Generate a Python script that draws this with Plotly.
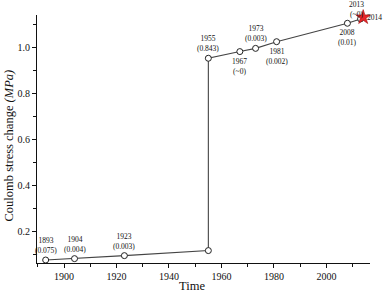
import plotly.graph_objects as go

# Data (cumulative Coulomb stress change, MPa)
years = [1893, 1904, 1923, 1955, 1955, 1967, 1973, 1981, 2008, 2013]
stress = [0.078, 0.084, 0.097, 0.119, 0.955, 0.984, 0.998, 1.027, 1.107, 1.126]
star_year = [2014]
star_stress = [1.133]

label_years = ["1893", "1904", "1923", "1955", "1967", "1973", "1981", "2008", "2013"]
label_changes = ["(0.075)", "(0.004)", "(0.003)", "(0.843)", "(~0)", "(0.003)", "(0.002)", "(0.01)", "(~0)"]
label_x = [1893, 1904, 1923, 1955, 1967, 1973, 1981, 2008, 2013]
label_y = [0.078, 0.084, 0.097, 0.955, 0.984, 0.998, 1.027, 1.107, 1.126]
label_pos = ["above", "above", "above", "above", "below", "above", "below", "below", "above"]

xticks = [1900, 1920, 1940, 1960, 1980, 2000]
yticks = [0.2, 0.4, 0.6, 0.8, 1.0]

FONT = "Liberation Serif"
L, R, T, B = 37, 370, 15, 263
W, H = 387, 295

fig = go.Figure()
fig.add_trace(go.Scatter(
    x=years + star_year, y=stress + star_stress, mode="lines",
    line=dict(color="#444444", width=1.1), showlegend=False, cliponaxis=False,
))
fig.add_trace(go.Scatter(
    x=years, y=stress, mode="markers",
    marker=dict(symbol="circle", size=6, color="white", line=dict(color="#222222", width=1)),
    showlegend=False, cliponaxis=False,
))
fig.add_trace(go.Scatter(
    x=star_year, y=star_stress, mode="markers",
    marker=dict(symbol="star", size=11, color="#e8262a", line=dict(color="#a01010", width=0.6)),
    showlegend=False, cliponaxis=False,
))

for yr, ch, xv, yv, pos in zip(label_years, label_changes, label_x, label_y, label_pos):
    if pos == "above":
        yanchor, yshift = "bottom", 4
    else:
        yanchor, yshift = "top", -4
    xshift = 0
    if yr == "2013":
        yshift = -1
        xshift = -4
    fig.add_annotation(
        x=xv, y=yv, text=yr + "<br>" + ch, showarrow=False,
        xanchor="center", yanchor=yanchor, yshift=yshift, xshift=xshift, borderpad=0,
        font=dict(family=FONT, size=7.5, color="#111111"),
    )
fig.add_annotation(
    x=star_year[0], y=star_stress[0], text="2014", showarrow=False,
    xanchor="left", yanchor="middle", xshift=3, borderpad=0,
    font=dict(family=FONT, size=7.5, color="#111111"),
)

# axis titles as annotations
fig.add_annotation(
    xref="paper", yref="paper", x=(192 - L) / (R - L), y=-(286 - B) / (B - T),
    text="Time", showarrow=False, xanchor="center", yanchor="middle",
    font=dict(family=FONT, size=12.5, color="#111111"),
)
fig.add_annotation(
    xref="paper", yref="paper", x=-(L - 9) / (R - L), y=(B - 145.5) / (B - T),
    text="Coulomb stress change <i>(MPa)</i>", showarrow=False, textangle=-90,
    xanchor="center", yanchor="middle",
    font=dict(family=FONT, size=12.5, color="#111111"),
)

fig.update_layout(
    width=W, height=H,
    margin=dict(l=L, r=W - R, t=T, b=H - B, pad=0),
    paper_bgcolor="white", plot_bgcolor="white",
    font=dict(family=FONT, color="#111111"),
    xaxis=dict(
        range=[1889.7, 2016.6], tickvals=xticks, ticktext=[str(v) for v in xticks],
        showgrid=False, zeroline=False, showline=True, linecolor="#111111", linewidth=1.2,
        ticks="outside", ticklen=4, tickcolor="#111111", tickwidth=1, automargin=False,
        minor=dict(tickvals=[1890, 1910, 1930, 1950, 1970, 1990, 2010], ticks="outside", ticklen=3, tickcolor="#111111"),
        tickfont=dict(family=FONT, size=10),
    ),
    yaxis=dict(
        range=[0.065, 1.143], tickvals=yticks, ticktext=["0.2", "0.4", "0.6", "0.8", "1.0"],
        showgrid=False, zeroline=False, showline=True, linecolor="#111111", linewidth=1.2,
        ticks="outside", ticklen=4, tickcolor="#111111", tickwidth=1, automargin=False,
        minor=dict(tickvals=[0.1, 0.3, 0.5, 0.7, 0.9, 1.1], ticks="outside", ticklen=3, tickcolor="#111111"),
        tickfont=dict(family=FONT, size=10),
    ),
)

fig.write_html("out.html", config={"displayModeBar": False},
               post_script="document.body.style.margin='0';document.body.style.padding='0';")
